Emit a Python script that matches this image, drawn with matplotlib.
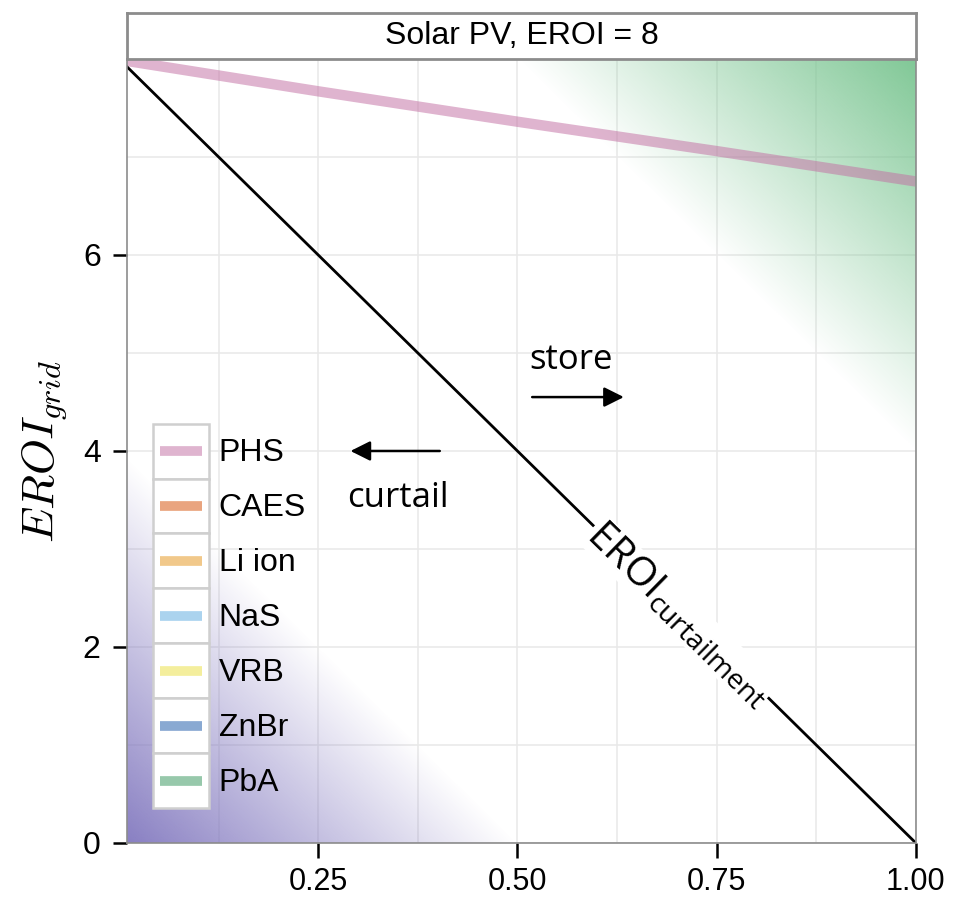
import numpy as np
import matplotlib
matplotlib.use("Agg")
import matplotlib.pyplot as plt
from matplotlib.patches import Rectangle
from matplotlib.lines import Line2D
from matplotlib.legend_handler import HandlerBase
from matplotlib.ticker import MultipleLocator, FixedLocator

plt.rcParams['font.family'] = ['Liberation Sans', 'DejaVu Sans']
plt.rcParams['mathtext.fontset'] = 'custom'
plt.rcParams['mathtext.rm'] = 'Open Sans'
plt.rcParams['mathtext.it'] = 'Open Sans:italic'

eroi = 8
# fraction of output stored (x) and grid EROI values
phs_x = [0.01, 0.25, 0.50, 0.75, 1.00]
phs_y = [7.98, 7.67, 7.36, 7.06, 6.75]
curt_x = [0.01, 1.00]
curt_y = [eroi * (1 - v) for v in curt_x]

techs = ['PHS', 'CAES', 'Li ion', 'NaS', 'VRB', 'ZnBr', 'PbA']
tech_colors = ['#c36fa3', '#d5520a', '#e69720', '#5facE0', '#eae044', '#1e5aaa', '#39975f']
tech_alpha = 0.52

x_ticks = [0.25, 0.50, 0.75, 1.00]
y_ticks = [0, 2, 4, 6]


class BoxedLine(HandlerBase):
    def create_artists(self, legend, orig_handle, xdescent, ydescent,
                       width, height, fontsize, trans):
        box = Rectangle((-xdescent, -ydescent), width, height, facecolor='white',
                        edgecolor='#cfcfcf', lw=1.8, transform=trans)
        pad = width * 0.12
        cy = -ydescent + height / 2
        ln = Line2D([-xdescent + pad, -xdescent + width - pad], [cy, cy],
                    color=orig_handle.get_color(), alpha=orig_handle.get_alpha(),
                    lw=7, solid_capstyle='butt', transform=trans)
        return [box, ln]


fig = plt.figure(figsize=(9.55, 8.99), dpi=100)
ax = fig.add_axes([0.133, 0.0623, 0.826, 0.8721])
strip = fig.add_axes([0.133, 0.9344, 0.826, 0.0512])

# background shading: distance above / below the curtailment line
gx = np.linspace(0.01, 1.0, 400)
gy = np.linspace(0, 8, 400)
GX, GY = np.meshgrid(gx, gy)
d = GY - eroi * (1 - GX)
img = np.zeros(GX.shape + (4,))
t_up = np.clip((d - 4) / 4, 0, 1)
t_dn = np.clip((-d - 4) / 4, 0, 1)
green = np.array([122, 197, 145]) / 255
purple = np.array([128, 118, 190]) / 255
img[..., :3] = np.where((d > 0)[..., None], green, purple)
img[..., 3] = np.maximum(t_up, t_dn) * 0.95
ax.imshow(img, extent=[0.01, 1.0, 0, 8], origin='lower', aspect='auto',
          interpolation='bilinear', zorder=0.8)

ax.plot(curt_x, curt_y, color='black', lw=2.0, zorder=3)
ax.plot(phs_x, phs_y, color=tech_colors[0], alpha=tech_alpha, lw=7.5,
        solid_capstyle='butt', zorder=2)

ax.text(0.703, 2.34, r'$\mathrm{EROI}_{\mathrm{curtailment}}$', fontsize=29,
        rotation=-44.4, rotation_mode='anchor', ha='center', va='center',
        math_fontfamily='custom',
        bbox=dict(facecolor='white', edgecolor='none', pad=0.3), zorder=4)

ax.annotate('', xy=(0.637, 4.55), xytext=(0.515, 4.55),
            arrowprops=dict(arrowstyle='-|>', lw=1.8, color='black', mutation_scale=30))
ax.text(0.515, 4.93, 'store', fontsize=25, family='Open Sans', ha='left', va='center')
ax.annotate('', xy=(0.287, 4.0), xytext=(0.406, 4.0),
            arrowprops=dict(arrowstyle='-|>', lw=1.8, color='black', mutation_scale=30))
ax.text(0.350, 3.52, 'curtail', fontsize=25, family='Open Sans', ha='center', va='center')

ax.set_xlim(0.01, 1.0)
ax.set_ylim(0, 8)
ax.xaxis.set_major_locator(FixedLocator(x_ticks))
ax.xaxis.set_minor_locator(MultipleLocator(0.125))
ax.yaxis.set_major_locator(FixedLocator(y_ticks))
ax.yaxis.set_minor_locator(MultipleLocator(1))
ax.set_xticklabels(['%.2f' % v for v in x_ticks])
ax.set_yticklabels([str(v) for v in y_ticks])
ax.set_axisbelow(True)
ax.grid(True, which='both', color='#e8e8e8', lw=1.1)
ax.tick_params(which='major', labelsize=23, length=10, width=1.8, color='black', pad=9)
ax.tick_params(axis='x', which='major', length=11, pad=6, labelsize=22)
ax.tick_params(which='minor', length=0)
for s in ax.spines.values():
    s.set_color('#8c8c8c')
    s.set_linewidth(1.2)
    s.set_zorder(5)

ax.set_ylabel(r'$EROI_{grid}$', fontsize=33, math_fontfamily='cm', labelpad=10)

handles = [Line2D([], [], color=c, alpha=tech_alpha) for c in tech_colors]
ax.legend(handles, techs, handler_map={Line2D: BoxedLine()}, loc='upper left',
          bbox_to_anchor=(0.033, 0.535), frameon=False, fontsize=23,
          handlelength=1.75, handleheight=2.27, labelspacing=0, borderpad=0,
          borderaxespad=0, handletextpad=0.3)

strip.set_xticks([])
strip.set_yticks([])
for s in strip.spines.values():
    s.set_color('#8c8c8c')
    s.set_linewidth(2)
strip.text(0.5, 0.5, 'Solar PV, EROI = %d' % eroi, fontsize=23, ha='center', va='center',
           transform=strip.transAxes)

fig.savefig('out.png', dpi=100)
